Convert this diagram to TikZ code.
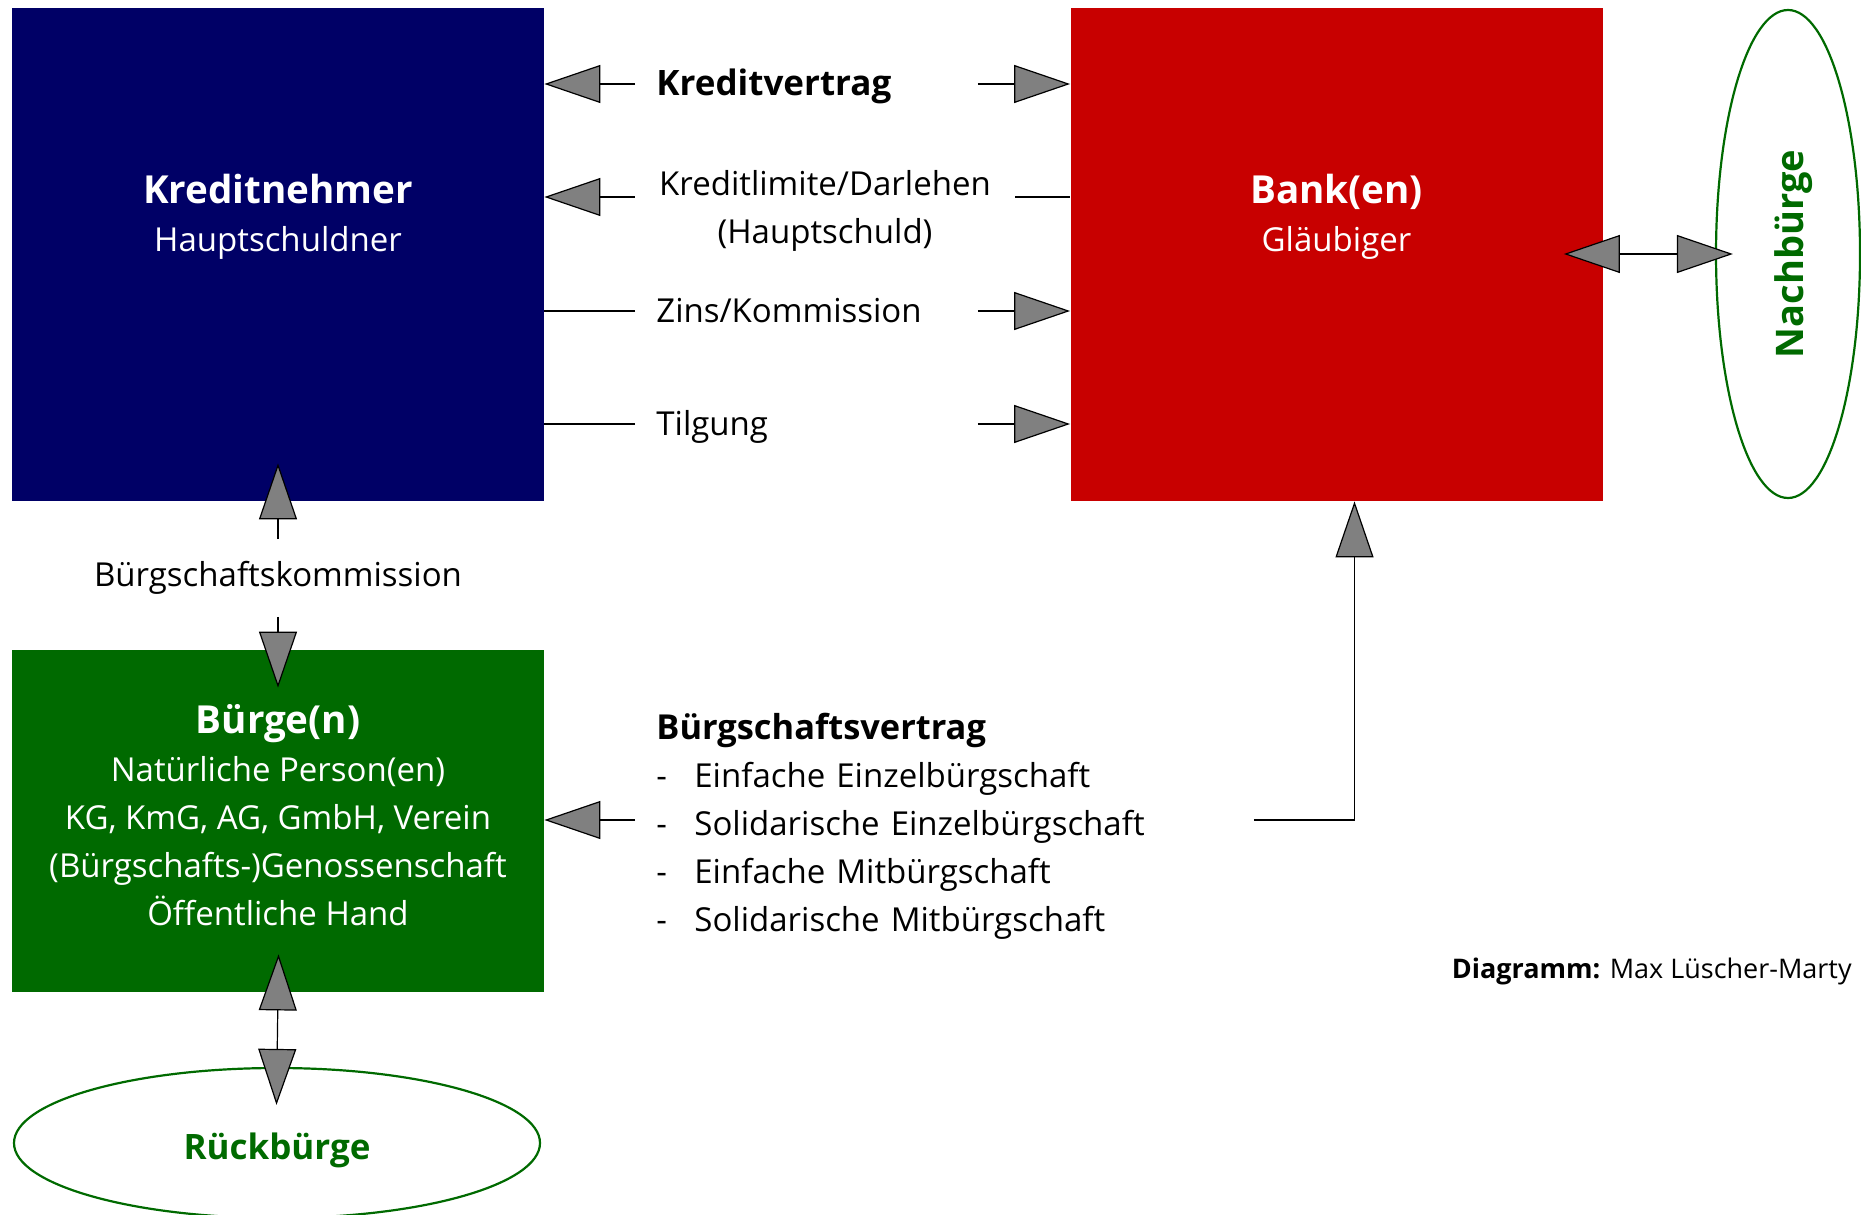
\documentclass[tikz,border=0pt]{standalone}
\usepackage{fontspec}
\setmainfont{Open Sans}
\usepackage{graphicx}
\usetikzlibrary{arrows.meta,shapes.geometric}

\definecolor{nehmerblau}{RGB}{0,0,102}
\definecolor{bankrot}{RGB}{200,0,0}
\definecolor{buergegruen}{RGB}{0,106,0}
\definecolor{pfeilgrau}{RGB}{128,128,128}

\newcommand\titelfont{\fontsize{19.3}{24}\selectfont\bfseries}
\newcommand\strich{\makebox[19pt][l]{-}}

\begin{document}
\begin{tikzpicture}[x=0.5pt, y=-0.5pt,
    box/.style={rectangle, inner sep=0pt, minimum width=266pt, minimum height=246.5pt},
    txt/.style={font=\fontsize{16.5}{24}\selectfont, inner sep=0pt},
    zeile/.style={txt, anchor=west, inner xsep=10.5pt, text width=150pt, align=left, text height=15pt, text depth=3.5pt},
    pfeil/.style={draw=black, line width=0.6pt, -{Triangle[length=28pt, width=19pt, fill=pfeilgrau]}},
    dpfeil/.style={pfeil, {Triangle[length=28pt, width=19pt, fill=pfeilgrau]}-{Triangle[length=28pt, width=19pt, fill=pfeilgrau]}},
    linie/.style={draw=black, line width=0.6pt}]
    \useasboundingbox (0,0) rectangle (1861,1214);
    \clip (0,0) rectangle (1861,1214);

    % Kreditnehmer, Bank, Buerge
    \node[box, fill=nehmerblau] (kn) at (278,254.5) {};
    \node[txt, text=white, align=center] (kntitel) at (278,217) {{\titelfont Kreditnehmer}\\Hauptschuldner};
    \node[box, fill=bankrot] (bank) at (1336.5,254.5) {};
    \node[txt, text=white, align=center] (banktitel) at (1336.5,217) {{\titelfont Bank(en)}\\Gläubiger};
    \node[box, minimum height=171pt, fill=buergegruen] (bg) at (278,821) {};
    \node[txt, text=white, align=center] (bgtitel) at (278,815)
        {{\titelfont Bürge(n)}\\Natürliche Person(en)\\KG, KmG, AG, GmbH, Verein\\(Bürgschafts-)Genossenschaft\\Öffentliche Hand};

    % Nachbuerge, Rueckbuerge
    \node[ellipse, draw=buergegruen, line width=1.1pt, minimum width=72pt, minimum height=244pt, inner sep=0pt,
        text=buergegruen] (nb) at (1788,254) {\hspace*{6pt}\rotatebox{90}{\fontsize{19}{24}\selectfont\bfseries Nachbürge}};
    \node[ellipse, draw=buergegruen, line width=1.1pt, minimum width=263pt, minimum height=75pt, inner sep=0pt,
        text=buergegruen, font=\fontsize{17.5}{24}\selectfont\bfseries, text height=20pt, text depth=4pt] (rb) at (277,1143) {Rückbürge};

    % Beschriftungen
    \node[zeile, font=\fontsize{17.5}{24}\selectfont\bfseries] (kv) at (635,84) {Kreditvertrag};
    \node[txt, minimum width=190pt, align=center] (kl) at (825,211) {Kreditlimite/Darlehen\\(Hauptschuld)};
    \coordinate (klpunkt) at (825,197);
    \node[zeile] (zk) at (635,311) {Zins/Kommission};
    \node[zeile] (tg) at (635,424) {Tilgung};
    \node[txt, minimum height=38.5pt] (bk) at (278,578) {Bürgschaftskommission};
    \node[txt, anchor=west, inner xsep=10.5pt, text width=288pt, align=left] (bv) at (635,826)
        {{\fontsize{17.2}{24}\selectfont\bfseries Bürgschaftsvertrag}\\
         \strich Einfache Einzelbürgschaft\\
         \strich Solidarische Einzelbürgschaft\\
         \strich Einfache Mitbürgschaft\\
         \strich Solidarische Mitbürgschaft};
    \coordinate (bvpunkt) at (825,820);
    \node[txt, anchor=east, font=\fontsize{13.5}{16}\selectfont] (credit) at (1852,971) {\textbf{Diagramm:} Max Lüscher-Marty};

    % Pfeile
    \draw[pfeil] (kv.west) -- (kn.east |- kv.west);
    \draw[pfeil] (kv.east) -- (bank.west |- kv.east);
    \draw[pfeil] (kl.west |- klpunkt) -- (kn.east |- klpunkt);
    \draw[linie] (kl.east |- klpunkt) -- (bank.west |- klpunkt);
    \draw[linie] (zk.west) -- (kn.east |- zk.west);
    \draw[pfeil] (zk.east) -- (bank.west |- zk.east);
    \draw[linie] (tg.west) -- (kn.east |- tg.west);
    \draw[pfeil] (tg.east) -- (bank.west |- tg.east);
    \draw[pfeil, shorten >=-19pt] (bk.north) -- (kn.south);
    \draw[pfeil, shorten >=-19pt] (bk.south) -- (bg.north);
    \draw[pfeil] (bv.west |- bvpunkt) -- (bg.east |- bvpunkt);
    \draw[pfeil] (bv.east |- bvpunkt) -| ([xshift=9pt]bank.south);
    \draw[dpfeil, shorten <=-19pt, shorten >=-19pt] (bg.south) -- (rb.north);
    \draw[dpfeil, shorten <=-19.5pt, shorten >=-9pt] (bank.east |- nb.west) -- (nb.west);
\end{tikzpicture}
\end{document}
